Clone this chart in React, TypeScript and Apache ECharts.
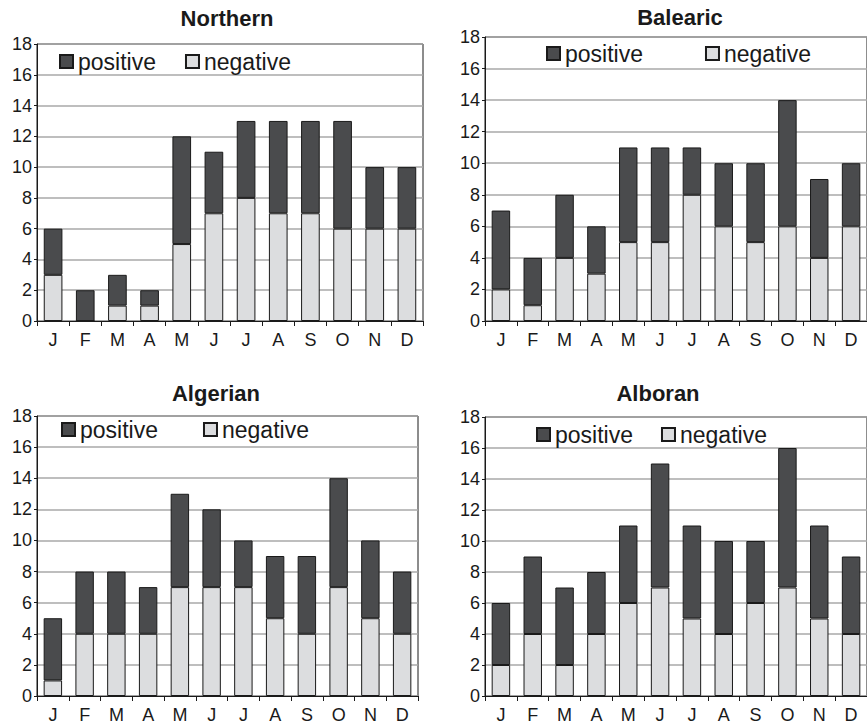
import React, { useEffect, useRef } from "react";
import * as echarts from "echarts";

const months = ["J", "F", "M", "A", "M", "J", "J", "A", "S", "O", "N", "D"];
const yMin = 0;
const yMax = 18;
const yInterval = 2;

const northernNegative = [3, 0, 1, 1, 5, 7, 8, 7, 7, 6, 6, 6];
const northernPositive = [3, 2, 2, 1, 7, 4, 5, 6, 6, 7, 4, 4];

const balearicNegative = [2, 1, 4, 3, 5, 5, 8, 6, 5, 6, 4, 6];
const balearicPositive = [5, 3, 4, 3, 6, 6, 3, 4, 5, 8, 5, 4];

const algerianNegative = [1, 4, 4, 4, 7, 7, 7, 5, 4, 7, 5, 4];
const algerianPositive = [4, 4, 4, 3, 6, 5, 3, 4, 5, 7, 5, 4];

const alboranNegative = [2, 4, 2, 4, 6, 7, 5, 4, 6, 7, 5, 4];
const alboranPositive = [4, 5, 5, 4, 5, 8, 6, 6, 4, 9, 6, 5];

const FONT = '"Liberation Sans", Arial, sans-serif';
const DARK = "#4a4b4d";
const LIGHT = "#dcdddf";
const INK = "#1a1a1a";

const panels = [
  {
    name: "Northern",
    neg: northernNegative,
    pos: northernPositive,
    grid: { left: 37, top: 44, width: 386, height: 277 },
    titleX: 227,
    titleY: 18,
    legend: { left: 59, top: 50, gap: 29 },
  },
  {
    name: "Balearic",
    neg: balearicNegative,
    pos: balearicPositive,
    grid: { left: 485, top: 37, width: 386, height: 284 },
    titleX: 680,
    titleY: 17,
    legend: { left: 546, top: 42, gap: 62 },
  },
  {
    name: "Algerian",
    neg: algerianNegative,
    pos: algerianPositive,
    grid: { left: 37, top: 416, width: 381, height: 280 },
    titleX: 216,
    titleY: 393,
    legend: { left: 61, top: 418, gap: 45 },
  },
  {
    name: "Alboran",
    neg: alboranNegative,
    pos: alboranPositive,
    grid: { left: 485, top: 417, width: 390, height: 279 },
    titleX: 658,
    titleY: 393,
    legend: { left: 536, top: 423, gap: 28 },
  },
];

export default function App() {
  const ref = useRef<HTMLDivElement>(null);

  useEffect(() => {
    if (!ref.current) return;
    const chart = echarts.init(ref.current, undefined, { renderer: "svg" });

    const grid = panels.map((p) => ({
      ...p.grid,
      show: true,
      borderColor: INK,
      borderWidth: 1,
      backgroundColor: "transparent",
      containLabel: false,
    }));

    const xAxis = panels.map((p, i) => ({
      type: "category",
      gridIndex: i,
      data: months,
      boundaryGap: true,
      axisLine: { show: true, lineStyle: { color: INK, width: 1 } },
      axisTick: { show: true, length: 5, inside: false, lineStyle: { color: INK, width: 1 } },
      axisLabel: { fontFamily: FONT, fontSize: 18, color: INK, margin: 10, interval: 0 },
      splitLine: { show: false },
    }));

    const yAxis = panels.map((p, i) => ({
      type: "value",
      gridIndex: i,
      min: yMin,
      max: yMax,
      interval: yInterval,
      axisLine: { show: true, lineStyle: { color: INK, width: 1 } },
      axisTick: { show: true, length: 3, lineStyle: { color: INK, width: 1 } },
      axisLabel: { fontFamily: FONT, fontSize: 18, color: INK, margin: 5 },
      splitLine: { show: true, lineStyle: { color: "#a8a8a8", width: 1.5 } },
    }));

    const series: any[] = [];
    panels.forEach((p, i) => {
      series.push({
        type: "bar",
        name: "negative",
        xAxisIndex: i,
        yAxisIndex: i,
        stack: "s" + i,
        data: p.neg,
        barWidth: "58%",
        itemStyle: { color: LIGHT, borderColor: INK, borderWidth: 1 },
      });
      series.push({
        type: "bar",
        name: "positive",
        xAxisIndex: i,
        yAxisIndex: i,
        stack: "s" + i,
        data: p.pos,
        barWidth: "58%",
        itemStyle: { color: DARK, borderColor: INK, borderWidth: 1 },
      });
    });

    const legend = panels.map((p) => ({
      show: true,
      left: p.legend.left,
      top: p.legend.top,
      orient: "horizontal",
      itemGap: p.legend.gap,
      itemWidth: 13,
      itemHeight: 13,
      icon: "rect",
      padding: 0,
      selectedMode: false,
      data: ["positive", "negative"],
      textStyle: { fontFamily: FONT, fontSize: 23, color: INK, padding: [0, 0, 0, 0] },
    }));

    const graphic = panels.map((p) => ({
      type: "text",
      x: p.titleX,
      y: p.titleY,
      style: {
        text: p.name,
        textAlign: "center",
        textVerticalAlign: "middle",
        font: `bold 22px ${FONT}`,
        fill: INK,
      },
    }));

    chart.setOption({
      animation: false,
      backgroundColor: "#ffffff",
      grid,
      xAxis,
      yAxis,
      series,
      legend,
      graphic,
    });

    return () => chart.dispose();
  }, []);

  return (
    <div
      ref={ref}
      style={{ position: "fixed", left: 0, top: 0, width: 867, height: 727, background: "#fff" }}
    />
  );
}
